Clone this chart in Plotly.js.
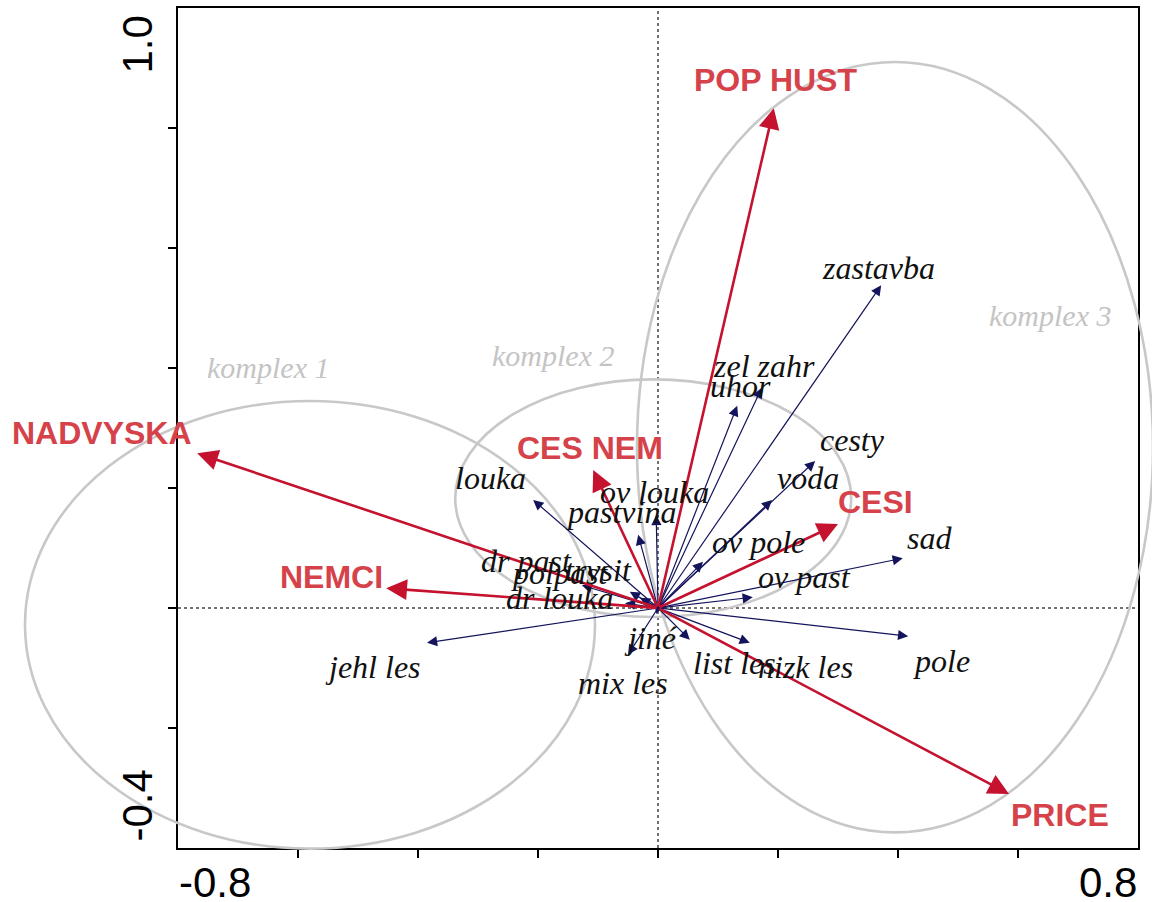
<!DOCTYPE html>
<html><head><meta charset="utf-8">
<script src="https://cdn.plot.ly/plotly-3.0.1.min.js"></script>
<style>html,body{margin:0;padding:0;background:#fff}#chart{width:1152px;height:902px}</style>
</head><body><div id="chart"></div><script>
// ---- data ----
const envNames = ['POP HUST','NADVYSKA','NEMCI','CES NEM','CESI','PRICE'];
const envX = [0.193,-0.768,-0.453,-0.108,0.300,0.585];
const envY = [0.833,0.258,0.033,0.230,0.140,-0.310];

const clsNames = ['zastavba','zel zahr','uhor','cesty','voda','ov pole','sad','ov past','pole','nizk les','list les','jiné','mix les','jehl les','louka','pastvina','ov louka','dr past','polpast','trvsit','dr louka'];
const clsX = [0.372,0.173,0.132,0.262,0.190,0.075,0.408,0.158,0.417,0.153,0.053,-0.003,-0.050,-0.385,-0.208,-0.033,-0.003,-0.127,-0.047,-0.030,-0.055];
const clsY = [0.538,0.367,0.337,0.245,0.180,0.077,0.083,0.018,-0.047,-0.058,-0.053,-0.010,-0.078,-0.058,0.180,0.122,0.155,0.038,0.027,0.017,0.008];

const grpNames = ['komplex 1','komplex 2','komplex 3'];
const grpCX = [-0.580,-0.008,0.395];
const grpCY = [-0.028,0.183,0.268];
const grpRX = [0.475,0.330,0.430];
const grpRY = [0.373,0.198,0.642];

const xTickLabels = ['-0.8','0.8'];
const yTickLabels = ['1.0','-0.4'];

// ---- styles / label offsets (pixels) ----
const envOff = [[2,-28],[-95,-20],[-55,-11],[-3,-22],[37,-22],[51,21]];
const clsOff = [[-3,-17],[2,-22],[3,-20],[37,-21],[36,-22],[55,-20],[27,-20],[52,-20],[33,25],[56,24],[45,23],[-5,24],[-5,28],[-54,24],[-43,-22],[-17,-23],[-2,-23],[-55,-24],[-70,-19],[-42,-28],[-65,-5]];
const grpLabelPx = [[268,367],[553,355],[1050,315]];

const W=1152,H=902, L=178,R=1138,T=8,B=848;
const xr=[-0.8,0.8], yr=[-0.4,1.0];
const sx=(xr[1]-xr[0])/(R-L), sy=(yr[1]-yr[0])/(B-T);
const x2r=[xr[0]-L*sx, xr[1]+(W-R)*sx];
const y2r=[yr[0]-(H-B)*sy, yr[1]+T*sy];

const RED='#c4122f', REDTXT='#d6424a', NAVY='#14145c';
const ann=[];
clsNames.forEach((n,i)=>{
  ann.push({x:clsX[i],y:clsY[i],ax:0,ay:0,xref:'x',yref:'y',axref:'x',ayref:'y',text:'',showarrow:true,
    arrowhead:2,arrowsize:1.7,arrowwidth:1.2,arrowcolor:NAVY,standoff:0,startstandoff:0});
});
envNames.forEach((n,i)=>{
  ann.push({x:envX[i],y:envY[i],ax:0,ay:0,xref:'x',yref:'y',axref:'x',ayref:'y',text:'',showarrow:true,
    arrowhead:2,arrowsize:1.6,arrowwidth:2.6,arrowcolor:RED,standoff:0,startstandoff:0});
});
clsNames.forEach((n,i)=>{
  ann.push({x:clsX[i],y:clsY[i],xref:'x',yref:'y',text:n,showarrow:false,xshift:clsOff[i][0],yshift:-clsOff[i][1],
    xanchor:'center',yanchor:'middle',font:{family:'Liberation Serif, Times New Roman, serif',size:32,color:'#111',style:'italic'}});
});
envNames.forEach((n,i)=>{
  ann.push({x:envX[i],y:envY[i],xref:'x',yref:'y',text:'<b>'+n+'</b>',showarrow:false,xshift:envOff[i][0],yshift:-envOff[i][1],
    xanchor:'center',yanchor:'middle',font:{family:'Liberation Sans, Arial, sans-serif',size:32,color:REDTXT}});
});
grpNames.forEach((n,i)=>{
  ann.push({x:x2r[0]+grpLabelPx[i][0]*sx,y:y2r[1]-grpLabelPx[i][1]*sy,xref:'x2',yref:'y2',text:n,showarrow:false,
    xanchor:'center',yanchor:'middle',font:{family:'Liberation Serif, Times New Roman, serif',size:30,color:'#c4c4c4',style:'italic'}});
});
// axis end labels
const tf={family:'Liberation Sans, Arial, sans-serif',size:42,color:'#000'};
ann.push({x:xr[0],y:yr[0],xref:'x',yref:'y',text:xTickLabels[0],showarrow:false,xanchor:'left',yanchor:'middle',yshift:-34,borderpad:0,font:tf});
ann.push({x:xr[1],y:yr[0],xref:'x',yref:'y',text:xTickLabels[1],showarrow:false,xanchor:'right',yanchor:'middle',yshift:-34,borderpad:0,font:tf});
ann.push({x:xr[0],y:yr[1],xref:'x',yref:'y',text:yTickLabels[0],showarrow:false,textangle:-90,xanchor:'right',yanchor:'top',xshift:-16,yshift:-6,font:tf});
ann.push({x:xr[0],y:yr[0],xref:'x',yref:'y',text:yTickLabels[1],showarrow:false,textangle:-90,xanchor:'right',yanchor:'bottom',xshift:-16,yshift:4,font:tf});

const shapes=[];
grpNames.forEach((n,i)=>{
  shapes.push({type:'circle',xref:'x2',yref:'y2',x0:grpCX[i]-grpRX[i],x1:grpCX[i]+grpRX[i],y0:grpCY[i]-grpRY[i],y1:grpCY[i]+grpRY[i],
    line:{color:'#c8c8c8',width:2.6},layer:'above'});
});
shapes.push({type:'line',xref:'x',yref:'y',x0:0,x1:0,y0:yr[0],y1:yr[1],line:{color:'#444',width:1.5,dash:'dot'},layer:'below'});
shapes.push({type:'line',xref:'x',yref:'y',x0:xr[0],x1:xr[1],y0:0,y1:0,line:{color:'#444',width:1.5,dash:'dot'},layer:'below'});

const traces=[
  {type:'scatter',mode:'markers',x:envX.concat(clsX),y:envY.concat(clsY),marker:{size:1,opacity:0},hoverinfo:'skip',showlegend:false,xaxis:'x',yaxis:'y'},
  {type:'scatter',mode:'markers',x:grpCX,y:grpCY,marker:{size:1,opacity:0},hoverinfo:'skip',showlegend:false,xaxis:'x2',yaxis:'y2'}
];
const axBase={showgrid:false,zeroline:false,showline:true,mirror:true,linecolor:'#000',linewidth:2,ticks:'outside',ticklen:8,tickwidth:1.5,tickcolor:'#000',showticklabels:false,fixedrange:true};
const layout={
  width:W,height:H,margin:{l:0,r:0,t:0,b:0},paper_bgcolor:'#fff',plot_bgcolor:'rgba(0,0,0,0)',showlegend:false,
  xaxis:Object.assign({},axBase,{domain:[L/W,R/W],range:xr,tickvals:[-0.6,-0.4,-0.2,0,0.2,0.4,0.6],anchor:'y'}),
  yaxis:Object.assign({},axBase,{domain:[1-B/H,1-T/H],range:yr,tickvals:[-0.2,0,0.2,0.4,0.6,0.8],anchor:'x'}),
  xaxis2:{domain:[0,1],range:x2r,visible:false,anchor:'y2',fixedrange:true},
  yaxis2:{domain:[0,1],range:y2r,visible:false,anchor:'x2',fixedrange:true},
  shapes:shapes,annotations:ann
};
Plotly.newPlot('chart',traces,layout,{staticPlot:true});
</script></body></html>
